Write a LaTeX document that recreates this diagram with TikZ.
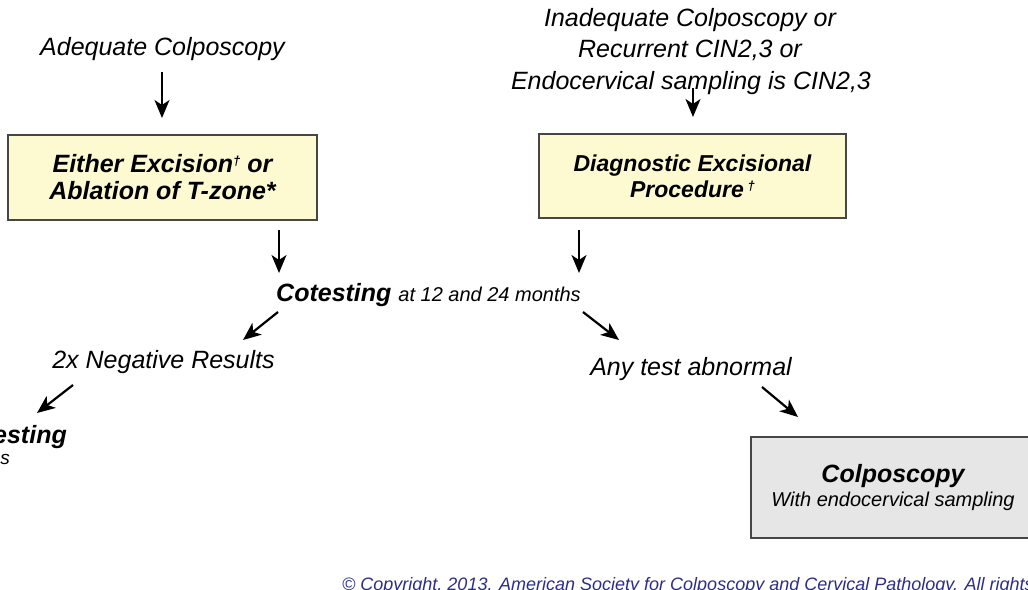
\documentclass[tikz,border=0pt]{standalone}
\usepackage{fontspec}
\setmainfont{Liberation Sans}
\usetikzlibrary{arrows.meta}
\definecolor{boxyellow}{RGB}{253,250,210}
\definecolor{boxgray}{RGB}{230,230,230}
\definecolor{boxedge}{RGB}{70,70,70}
\definecolor{copyblue}{RGB}{45,45,140}
\newcommand{\fsz}[2]{\fontsize{#1}{#2}\selectfont}
\newcommand{\mydagger}{\raisebox{7pt}{\fsz{13}{13}†}}
\begin{document}
\begin{tikzpicture}[x=1pt,y=-1pt,
  lbl/.style={inner sep=0pt, anchor=base, font=\itshape\fsz{25}{30}},
  procbox/.style={draw=boxedge, line width=1.5pt, fill=boxyellow, align=center, inner sep=0pt, font=\bfseries\itshape\fsz{25}{27}},
  arr/.style={line width=2.2pt, -{Stealth[length=18pt,width=15pt,inset=5pt]}}]
\useasboundingbox (0,0) rectangle (1028,589);
\fill[white] (0,0) rectangle (1028,589);

% top texts
\node[lbl] (adeq) at (162.5,55) {Adequate Colposcopy};
\node[lbl] (inad1) at (690,26) {Inadequate Colposcopy or};
\node[lbl] (inad2) at (690,57) {Recurrent CIN2,3 or};
\node[lbl] (inad3) at (691,89) {Endocervical sampling is CIN2,3};

% boxes
\node[procbox, minimum width=309pt, minimum height=85pt] (box1) at (162.5,177.5)
  {Either Excision\mydagger{} or\\Ablation of T-zone*};
\node[procbox, minimum width=307pt, minimum height=84pt, font=\bfseries\itshape\fsz{23}{26}] (box2) at (692.5,176)
  {Diagnostic Excisional\\Procedure\,\mydagger};

% cotesting
\node[inner sep=0pt, anchor=base west] (cot) at (276,301)
  {\bfseries\itshape\fsz{25}{30}Cotesting\ \mdseries\fsz{20}{24}at 12 and 24 months};

\node[lbl] (neg) at (163.5,368) {2x Negative Results};
\node[lbl] (abn) at (691,375) {Any test abnormal};

% partially visible node on the left
\node[inner sep=0pt, anchor=base east, font=\bfseries\itshape\fsz{25}{30}] (cot2) at (67,443) {esting};
\node[inner sep=0pt, anchor=base east, font=\itshape\fsz{19}{24}] (cot2sub) at (10,464) {s};

% colposcopy box
\node[draw=boxedge, line width=1.5pt, fill=boxgray, align=center, inner sep=0pt,
  minimum width=284pt, minimum height=101pt] (colpo) at (893,487.5)
  {{\bfseries\itshape\fsz{25}{24}Colposcopy}\\[3pt]{\itshape\fsz{20}{24}With endocervical sampling}};

% copyright
\node[inner sep=0pt, anchor=base west, text=copyblue, font=\itshape\fsz{18}{22}] (copy) at (342,590)
  {© Copyright, 2013. American Society for Colposcopy and Cervical Pathology. All rights};

% arrow end points
\coordinate (a1s) at (162,72);   \coordinate (a1e) at (162,118);
\coordinate (a2s) at (693,88);   \coordinate (a2e) at (693,117);
\coordinate (a3s) at (279,230);  \coordinate (a3e) at (279,273);
\coordinate (a4s) at (579,230);  \coordinate (a4e) at (579,273);
\coordinate (a5s) at (278,312);  \coordinate (a5e) at (243,340);
\coordinate (a6s) at (583,312);  \coordinate (a6e) at (619,340);
\coordinate (a7s) at (73,385);   \coordinate (a7e) at (37,413);
\coordinate (a8s) at (762,387);  \coordinate (a8e) at (798,417);

\draw[arr] (a1s) -- (a1e);
\draw[arr] (a2s) -- (a2e);
\draw[arr] (a3s) -- (a3e);
\draw[arr] (a4s) -- (a4e);
\draw[arr] (a5s) -- (a5e);
\draw[arr] (a6s) -- (a6e);
\draw[arr] (a7s) -- (a7e);
\draw[arr] (a8s) -- (a8e);
\end{tikzpicture}
\end{document}
